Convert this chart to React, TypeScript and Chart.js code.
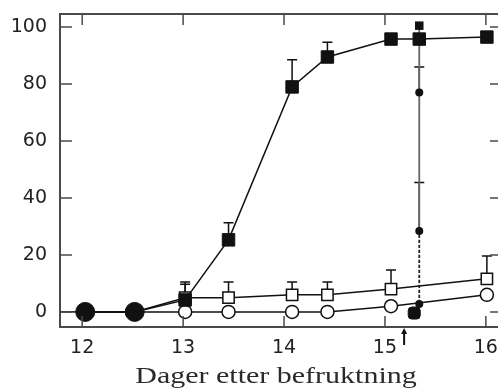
import React, { useEffect, useRef } from 'react';
import { Chart, registerables } from 'chart.js';
Chart.register(...registerables);

// ---- data ----
const dayTicks = [12, 13, 14, 15, 16];
const pctTicks = [0, 20, 40, 60, 80, 100];
const xTitle = 'Dager etter befruktning';

const filledDays = [12.03, 12.52, 13.02, 13.45, 14.08, 14.43, 15.06, 15.34, 16.01];
const filledValues = [0, 0, 4.2, 25.3, 79, 89.5, 95.8, 95.8, 96.5];
const filledErrUp = [0, 0, 5.5, 6, 9.5, 5.2, 0, 0, 0];

const openDays = [12.03, 12.52, 13.02, 13.45, 14.08, 14.43, 15.06, 16.01];
const openSquareValues = [0, 0, 5, 5, 6, 6, 8, 11.6];
const openSquareErrUp = [0, 0, 5.5, 5.5, 4.5, 4.5, 6.7, 8];
const openCircleValues = [0, 0, 0, 0, 0, 0, 2, 6];

const spikeDay = 15.34;
const spikeValues = [100.5, 77, 28.4, 2.8];
const spikeErrUp = [0, 9, 17, 0];

const blobDay = 15.29;
const blobValue = -0.4;
const arrowDay = 15.19;

const X_MIN = 11.78;
const X_MAX = 16.14;
const Y_MIN = -5.3;
const Y_MAX = 104.6;

const INK = '#111';
const FRAME = '#4a4a4a';

const extrasPlugin = {
  id: 'extras',
  beforeDatasetsDraw(chart: any) {
    const { ctx } = chart;
    const xs = chart.scales.x;
    const ys = chart.scales.y;
    ctx.save();
    ctx.strokeStyle = INK;
    ctx.lineWidth = 1.5;
    // zero line from left frame to first point
    ctx.beginPath();
    ctx.moveTo(chart.chartArea.left, ys.getPixelForValue(0));
    ctx.lineTo(xs.getPixelForValue(openDays[0]), ys.getPixelForValue(0));
    ctx.stroke();
    // error bars (upper only)
    chart.data.datasets.forEach((ds: any) => {
      if (!ds.errUp) return;
      ds.data.forEach((pt: any, j: number) => {
        const e = ds.errUp[j];
        if (!e) return;
        const px = xs.getPixelForValue(pt.x);
        const y0 = ys.getPixelForValue(pt.y);
        const y1 = ys.getPixelForValue(pt.y + e);
        ctx.beginPath();
        ctx.moveTo(px, y0);
        ctx.lineTo(px, y1);
        ctx.moveTo(px - 5, y1);
        ctx.lineTo(px + 5, y1);
        ctx.stroke();
      });
    });
    ctx.restore();
  },
  afterDraw(chart: any) {
    const { ctx, chartArea } = chart;
    const xs = chart.scales.x;
    const ys = chart.scales.y;
    ctx.save();
    ctx.strokeStyle = FRAME;
    ctx.lineWidth = 1.5;
    const tl = 11;
    ctx.beginPath();
    dayTicks.forEach((d) => {
      const px = xs.getPixelForValue(d);
      ctx.moveTo(px, chartArea.bottom);
      ctx.lineTo(px, chartArea.bottom - tl);
      ctx.moveTo(px, chartArea.top);
      ctx.lineTo(px, chartArea.top + tl);
    });
    pctTicks.forEach((v) => {
      const py = ys.getPixelForValue(v);
      ctx.moveTo(chartArea.left, py);
      ctx.lineTo(chartArea.left + 12, py);
      ctx.moveTo(chartArea.right, py);
      ctx.lineTo(chartArea.right - 10, py);
    });
    ctx.stroke();
    // arrow below axis
    const ax = xs.getPixelForValue(arrowDay);
    ctx.strokeStyle = INK;
    ctx.fillStyle = INK;
    ctx.lineWidth = 2;
    ctx.beginPath();
    ctx.moveTo(ax, chartArea.bottom + 4);
    ctx.lineTo(ax, chartArea.bottom + 18);
    ctx.stroke();
    ctx.beginPath();
    ctx.moveTo(ax, chartArea.bottom + 1);
    ctx.lineTo(ax - 3, chartArea.bottom + 7);
    ctx.lineTo(ax + 3, chartArea.bottom + 7);
    ctx.closePath();
    ctx.fill();
    // axis title (stretched serif)
    ctx.fillStyle = '#2a2a2a';
    ctx.font = "24px 'Liberation Serif'";
    ctx.textAlign = 'center';
    ctx.textBaseline = 'alphabetic';
    ctx.translate((chartArea.left + chartArea.right) / 2 - 4, 383);
    ctx.scale(1.25, 1);
    ctx.fillText(xTitle, 0, 0);
    ctx.restore();
  },
};

export default function App() {
  const ref = useRef<HTMLCanvasElement>(null);
  useEffect(() => {
    if (!ref.current) return;
    const pts = (xs: number[], ys: number[]) => xs.map((x, i) => ({ x, y: ys[i] }));
    const noPad = (s: any) => {
      s.paddingTop = 0;
      s.paddingBottom = 0;
      s.paddingLeft = 0;
      s.paddingRight = 0;
    };
    const chart = new Chart(ref.current, {
      type: 'line',
      data: {
        datasets: [
          {
            label: 'blob',
            data: [{ x: blobDay, y: blobValue }],
            showLine: false,
            pointStyle: 'rectRounded',
            pointRadius: 7,
            backgroundColor: INK,
            borderColor: INK,
          },
          {
            label: 'filled',
            data: pts(filledDays, filledValues),
            errUp: filledErrUp,
            borderColor: INK,
            borderWidth: 1.5,
            pointStyle: filledDays.map((_, i) => (i < 2 ? 'circle' : 'rect')),
            pointRadius: filledDays.map((_, i) => (i < 2 ? 9.5 : 8.8)),
            pointBackgroundColor: INK,
            pointBorderColor: INK,
            pointBorderWidth: 1,
            tension: 0,
          } as any,
          {
            label: 'spike',
            data: pts(spikeValues.map(() => spikeDay), spikeValues),
            errUp: spikeErrUp,
            borderColor: '#555',
            borderWidth: 1.8,
            segment: {
              borderDash: (c: any) => (c.p0DataIndex >= 2 ? [2, 3] : undefined),
              borderColor: (c: any) => (c.p0DataIndex >= 2 ? '#222' : '#666'),
            },
            pointStyle: spikeValues.map((_, i) => (i === 0 ? 'rect' : 'circle')),
            pointRadius: spikeValues.map((_, i) => (i === 0 ? 6 : 4)),
            pointBackgroundColor: INK,
            pointBorderColor: INK,
            pointBorderWidth: 0,
          } as any,
          {
            label: 'openSquares',
            data: pts(openDays, openSquareValues),
            errUp: openSquareErrUp,
            borderColor: INK,
            borderWidth: 1.5,
            pointStyle: 'rect',
            pointRadius: 8,
            pointBackgroundColor: '#fff',
            pointBorderColor: INK,
            pointBorderWidth: 1.5,
          } as any,
          {
            label: 'openCircles',
            data: pts(openDays, openCircleValues),
            borderColor: INK,
            borderWidth: 1.5,
            pointStyle: 'circle',
            pointRadius: 6.5,
            pointBackgroundColor: '#fff',
            pointBorderColor: INK,
            pointBorderWidth: 1.5,
          } as any,
        ],
      },
      options: {
        animation: false,
        responsive: false,
        devicePixelRatio: 1,
        layout: { autoPadding: false, padding: { left: 0, right: 2, top: 0, bottom: 0 } },
        plugins: { legend: { display: false }, tooltip: { enabled: false } },
        scales: {
          x: {
            type: 'linear',
            position: 'bottom',
            min: X_MIN,
            max: X_MAX,
            afterBuildTicks: (s: any) => { s.ticks = dayTicks.map((v) => ({ value: v })); },
            afterFit: (s: any) => { s.height = 65; noPad(s); },
            grid: { display: false, drawTicks: false },
            border: { display: true, color: FRAME, width: 2 },
            ticks: {
              padding: 10,
              color: '#222',
              font: { family: "'DejaVu Sans'", size: 19 },
              maxRotation: 0,
            },
          },
          xTop: {
            type: 'linear',
            position: 'top',
            min: X_MIN,
            max: X_MAX,
            afterFit: (s: any) => { s.height = 14; noPad(s); },
            grid: { display: false, drawTicks: false },
            border: { display: true, color: FRAME, width: 2 },
            ticks: { display: false },
          },
          y: {
            type: 'linear',
            min: Y_MIN,
            max: Y_MAX,
            afterBuildTicks: (s: any) => { s.ticks = pctTicks.map((v) => ({ value: v })); },
            afterFit: (s: any) => { s.width = 60; noPad(s); },
            grid: { display: false, drawTicks: false },
            border: { display: true, color: FRAME, width: 2 },
            ticks: {
              padding: 13,
              color: '#222',
              font: { family: "'DejaVu Sans'", size: 19 },
            },
          },
        },
      },
      plugins: [extrasPlugin],
    } as any);
    return () => chart.destroy();
  }, []);
  return (
    <div style={{ position: 'fixed', left: 0, top: 0, width: 498, height: 392, overflow: 'hidden', background: '#fff' }}>
      <canvas ref={ref} width={502} height={392} style={{ display: 'block' }} />
    </div>
  );
}
